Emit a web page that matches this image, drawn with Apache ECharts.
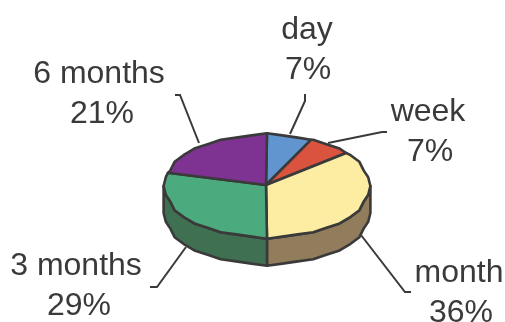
<!DOCTYPE html>
<html><head><meta charset="utf-8">
<style>html,body{margin:0;padding:0;background:#fff}#c{width:505px;height:322px}</style>
<script src="https://cdn.jsdelivr.net/npm/echarts@6/dist/echarts.min.js"></script>
</head><body><div id="c"></div>
<script>
const categories = ['day','week','month','3 months','6 months'];
const values = [7,7,36,29,21];
const topColors = ['#6095cf','#d9533e','#fdeda2','#4cab7e','#7e3392'];
const sideColors = ['#3f5f80','#87392c','#917c5c','#3f7052','#4f2560'];
const nameCentres = [[307,30],[428,112],[459,273],[76,266],[99,74]];
const pctCentres = [[308,70],[430,152],[461,313],[79,306],[102,114]];
const leaders = [
  [[290,134],[305,101],[305,94]],
  [[328,143],[382,132],[387,132]],
  [[361,235],[405,292],[411,292]],
  [[186,247],[157,287],[150,287]],
  [[199,143],[180,95],[175,95]]
];
const cx=267, cy=186, rx=102.5, ry=52, depth=27, ink='#3a3a3a', step=9, snap=2.2;
const total = values.reduce((a,b)=>a+b,0);
const pt=(deg)=>{const t=deg*Math.PI/180;return [cx+Math.round(rx*Math.sin(t)/snap)*snap,cy+Math.round(-ry*Math.cos(t)/snap)*snap];};
function arc(a,b){const p=[pt(a)];for(let d=Math.ceil(a/step+1e-6)*step;d<b-1e-6;d+=step)p.push(pt(d));p.push(pt(b));return p;}
const chart=echarts.init(document.getElementById('c'),null,{renderer:'canvas'});
chart.setOption({
  animation:false,
  xAxis:{show:false},yAxis:{show:false},
  series:[{
    type:'custom',coordinateSystem:'none',silent:true,
    data:values.map((v,i)=>({name:categories[i],value:[v,i]})),
    renderItem(params,api){
      const i=api.value(1), v=api.value(0);
      let before=0; for(let k=0;k<i;k++) before+=values[k];
      const a=before/total*360, b=(before+v)/total*360;
      const rim=arc(a,b), children=[];
      const lo=Math.max(a,90), hi=Math.min(b,270);
      if(lo<hi){
        const front=arc(lo,hi);
        const side=front.concat(front.slice().reverse().map(p=>[p[0],p[1]+depth]));
        children.push({type:'polygon',shape:{points:side},z2:1,style:{fill:sideColors[i],stroke:ink,lineWidth:2.6,lineJoin:'round'}});
      }
      children.push({type:'polygon',shape:{points:[[cx-1,cy-1]].concat(rim)},z2:2,style:{fill:topColors[i],stroke:ink,lineWidth:2.6,lineJoin:'round'}});
      children.push({type:'polyline',shape:{points:leaders[i]},z2:3,style:{fill:null,stroke:ink,lineWidth:2}});
      const font='32px "Liberation Sans", Arial, sans-serif';
      children.push({type:'text',x:nameCentres[i][0],y:nameCentres[i][1],z2:4,style:{text:categories[i],fill:ink,align:'center',verticalAlign:'middle',font}});
      children.push({type:'text',x:pctCentres[i][0],y:pctCentres[i][1],z2:4,style:{text:Math.round(v/total*100)+'%',fill:ink,align:'center',verticalAlign:'middle',font}});
      return {type:'group',children};
    }
  }]
});
</script></body></html>
